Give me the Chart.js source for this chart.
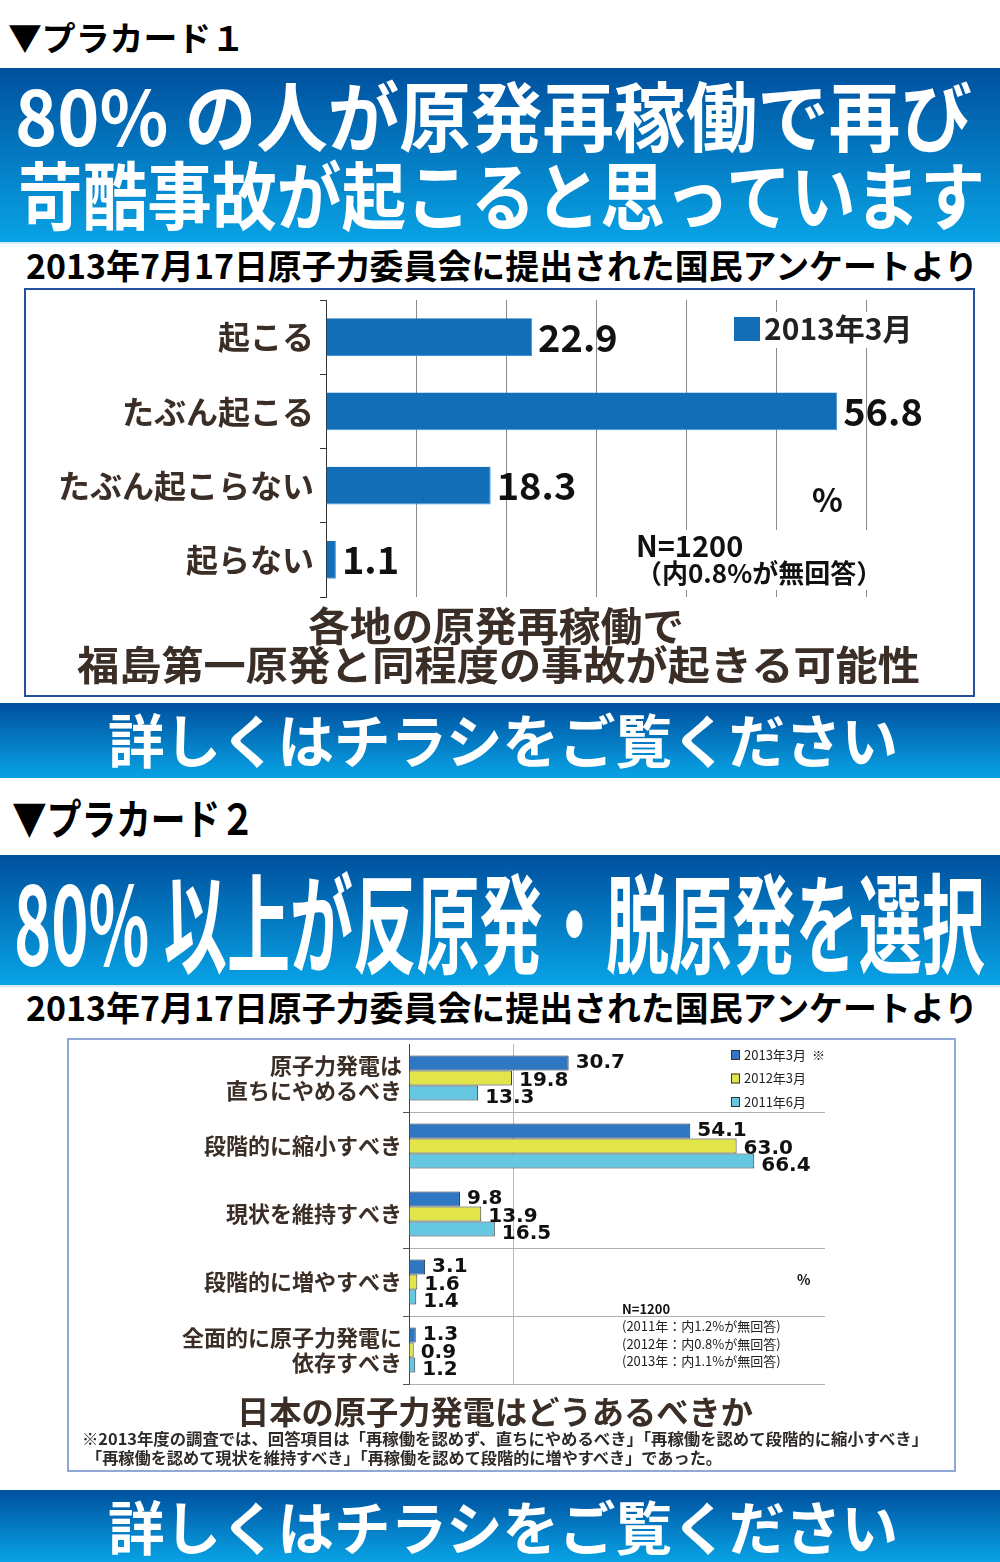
<!DOCTYPE html>
<html>
<head>
<meta charset="utf-8">
<script src="https://cdn.jsdelivr.net/npm/chart.js@4.4.0/dist/chart.umd.min.js"></script>
<style>
body { margin:0; width:1000px; height:1562px; position:relative; overflow:hidden; background:#fff; font-family:"Noto Sans CJK JP", sans-serif; }
.band { position:absolute; left:0; width:1000px; background:linear-gradient(#00509e, #08a3e5); }
.fit { position:absolute; white-space:nowrap; transform-origin:0 0; font-weight:700; line-height:1; }
.box { position:absolute; box-sizing:border-box; background:#fff; }
canvas { position:absolute; }
</style>
</head>
<body>

<div class="fit" data-w="237" style="left:8px;top:20px;font-size:34px;color:#000">▼プラカード１</div>

<div class="band" style="top:68px;height:174px;border-bottom:2px solid #d4ecf9"></div>
<div class="fit" data-w="957" style="left:15px;top:75px;font-size:76px;color:#fff">80% の人が原発再稼働で再び</div>
<div class="fit" data-w="967" style="left:18px;top:155px;font-size:74px;color:#fff">苛酷事故が起こると思っています</div>

<div class="fit" data-w="952" style="left:26px;top:248px;font-size:34px;color:#000">2013年7月17日原子力委員会に提出された国民アンケートより</div>

<div class="box" style="left:24px;top:288px;width:951px;height:409px;border:2px solid #24509c"></div>
<canvas id="chart1" width="946" height="320" style="left:26px;top:290px"></canvas>
<div class="fit" data-w="376" style="left:308px;top:604px;font-size:40px;color:#3a2e26">各地の原発再稼働で</div>
<div class="fit" data-w="843" style="left:77px;top:643px;font-size:40px;color:#3a2e26">福島第一原発と同程度の事故が起きる可能性</div>

<div class="band" style="top:703px;height:75px"></div>
<div class="fit" data-w="790" style="left:108px;top:709px;font-size:58px;color:#fff">詳しくはチラシをご覧ください</div>

<div class="fit" data-w="243" style="left:12px;top:796px;font-size:42px;color:#000">▼プラカード２</div>

<div class="band" style="top:855px;height:130px;border-bottom:2px solid #d4ecf9"></div>
<div class="fit" data-w="971" style="left:14px;top:864px;font-size:108px;color:#fff">80% 以上が反原発・脱原発を選択</div>

<div class="fit" data-w="952" style="left:26px;top:990px;font-size:34px;color:#000">2013年7月17日原子力委員会に提出された国民アンケートより</div>

<div class="box" style="left:67px;top:1038px;width:889px;height:434px;border:2px solid #8fa8d8"></div>
<canvas id="chart2" width="885" height="350" style="left:69px;top:1040px"></canvas>
<div class="fit" data-w="516" style="left:237px;top:1394px;font-size:32px;color:#3a2e26">日本の原子力発電はどうあるべきか</div>
<div class="fit" data-w="846" style="left:82px;top:1430px;font-size:16px;color:#2e2a28">※2013年度の調査では、回答項目は「再稼働を認めず、直ちにやめるべき」「再稼働を認めて段階的に縮小すべき」</div>
<div class="fit" data-w="636" style="left:86px;top:1449px;font-size:16px;color:#2e2a28">「再稼働を認めて現状を維持すべき」「再稼働を認めて段階的に増やすべき」であった。</div>

<div class="band" style="top:1490px;height:72px"></div>
<div class="fit" data-w="790" style="left:108px;top:1496px;font-size:58px;color:#fff">詳しくはチラシをご覧ください</div>

<script>
// placard 1
const p1Categories = ['起こる', 'たぶん起こる', 'たぶん起こらない', '起らない'];
const p1Values = [22.9, 56.8, 18.3, 1.1];
const p1Series = '2013年3月';
const p1Ticks = [0, 10, 20, 30, 40, 50, 60];

// placard 2
const p2Categories = [['原子力発電は', '直ちにやめるべき'], '段階的に縮小すべき', '現状を維持すべき', '段階的に増やすべき', ['全面的に原子力発電に', '依存すべき']];
const p2Series = ['2013年3月', '2012年3月', '2011年6月'];
const p2Values2013 = [30.7, 54.1, 9.8, 3.1, 1.3];
const p2Values2012 = [19.8, 63.0, 13.9, 1.6, 0.9];
const p2Values2011 = [13.3, 66.4, 16.5, 1.4, 1.2];
const p2Ticks = [0, 20, 40, 60, 80];

const JP = '"Noto Sans CJK JP", sans-serif';

// squeeze/stretch the poster texts to their width
function fitTexts() {
  document.querySelectorAll('.fit').forEach(el => {
    el.style.transform = '';
    const w = el.getBoundingClientRect().width;
    el.style.transform = 'scaleX(' + (el.dataset.w / w) + ')';
  });
}
fitTexts();
if (document.fonts) document.fonts.ready.then(fitTexts);

// numbers at the end of each bar
const valueLabels = {
  id: 'valueLabels',
  afterDatasetsDraw(chart, args, opts) {
    const ctx = chart.ctx;
    ctx.save();
    ctx.font = opts.font;
    ctx.fillStyle = '#111';
    ctx.textBaseline = 'middle';
    ctx.textAlign = 'left';
    chart.data.datasets.forEach((ds, i) => {
      chart.getDatasetMeta(i).data.forEach((bar, j) => {
        ctx.fillText(ds.data[j].toFixed(1), bar.x + opts.gap, bar.y + (opts.dy ? opts.dy[i] : 0));
      });
    });
    ctx.restore();
  }
};

// legend + notes drawn into the plot
const notes = {
  id: 'notes',
  afterDatasetsDraw(chart, args, opts) {
    const ctx = chart.ctx;
    ctx.save();
    ctx.textBaseline = 'middle';
    (opts.blank || []).forEach(r => {
      ctx.fillStyle = '#fff';
      ctx.fillRect(r[0], r[1], r[2], r[3]);
    });
    const lg = opts.legend;
    chart.data.datasets.forEach((ds, i) => {
      const y = lg.y + i * lg.step;
      ctx.fillStyle = ds.backgroundColor;
      ctx.fillRect(lg.x, y - lg.h / 2, lg.w, lg.h);
      if (lg.stroke) {
        ctx.strokeStyle = lg.stroke;
        ctx.lineWidth = 1;
        ctx.strokeRect(lg.x + 0.5, y - lg.h / 2 + 0.5, lg.w - 1, lg.h - 1);
      }
      ctx.fillStyle = '#222';
      ctx.font = lg.font;
      ctx.fillText(ds.label + (i === 0 && lg.mark ? lg.mark : ''), lg.x + lg.w + lg.gap, y);
    });
    (opts.texts || []).forEach(t => {
      ctx.fillStyle = t.color || '#111';
      ctx.font = t.font;
      if (t.maxW) ctx.fillText(t.text, t.x, t.y, t.maxW);
      else ctx.fillText(t.text, t.x, t.y);
    });
    ctx.restore();
  }
};

// y axis: fixed width, no extra label padding above/below
function fixY(width) {
  return s => { s.width = width; s.paddingTop = 0; s.paddingBottom = 0; };
}

new Chart(document.getElementById('chart1'), {
  type: 'bar',
  data: {
    labels: p1Categories,
    datasets: [{
      label: p1Series,
      data: p1Values,
      backgroundColor: '#116eb7',
      borderColor: '#3f95dc',
      borderWidth: { bottom: 1, right: 1 },
      categoryPercentage: 1,
      barPercentage: 0.51
    }]
  },
  options: {
    indexAxis: 'y',
    responsive: false,
    animation: false,
    layout: { padding: { left: 0, right: 106, top: 10, bottom: 13 } },
    scales: {
      x: {
        min: p1Ticks[0],
        max: p1Ticks[p1Ticks.length - 1],
        ticks: { display: false, stepSize: p1Ticks[1] - p1Ticks[0] },
        grid: { color: '#8a8a8a', lineWidth: 1, drawTicks: false },
        border: { display: false },
        afterFit: s => { s.height = 0; s.paddingLeft = 0; s.paddingRight = 0; }
      },
      y: {
        ticks: { color: '#3b2e26', font: { family: JP, size: 32, weight: 'bold' }, padding: 6 },
        grid: { drawOnChartArea: false, color: '#333', tickLength: 6 },
        border: { color: '#333', width: 1 },
        afterFit: fixY(300)
      }
    },
    plugins: {
      legend: { display: false },
      tooltip: { enabled: false },
      valueLabels: { font: 'bold 38px ' + JP, gap: 6 },
      notes: {
        blank: [[700, 22, 204, 36], [604, 240, 266, 60]],
        legend: { x: 708, y: 39, step: 0, w: 26, h: 24, gap: 4, font: 'bold 30px ' + JP },
        texts: [
          { text: '%', x: 786, y: 210, font: 'bold 32px ' + JP },
          { text: 'N=1200', x: 610, y: 256, font: 'bold 29px ' + JP, maxW: 118 },
          { text: '（内0.8%が無回答）', x: 610, y: 283, font: 'bold 26px ' + JP, maxW: 256 }
        ]
      }
    }
  },
  plugins: [valueLabels, notes]
});

const p2Colors = ['#2f77c2', '#e2e54a', '#66c7e1'];
const p2Data = [p2Values2013, p2Values2012, p2Values2011];

new Chart(document.getElementById('chart2'), {
  type: 'bar',
  data: {
    labels: p2Categories,
    datasets: p2Series.map((name, i) => ({
      label: name,
      data: p2Data[i],
      backgroundColor: p2Colors[i],
      borderColor: '#2b3440',
      borderWidth: 1,
      categoryPercentage: 0.66,
      barPercentage: 1
    }))
  },
  options: {
    indexAxis: 'y',
    responsive: false,
    animation: false,
    layout: { padding: { left: 0, right: 129, top: 4, bottom: 6 } },
    scales: {
      x: {
        min: p2Ticks[0],
        max: p2Ticks[p2Ticks.length - 1],
        ticks: { display: false, stepSize: p2Ticks[1] - p2Ticks[0] },
        grid: { color: c => c.tick && c.tick.value === p2Ticks[1] ? '#b8b8b8' : 'rgba(0,0,0,0)', drawTicks: false },
        border: { display: false },
        afterFit: s => { s.height = 0; s.paddingLeft = 0; s.paddingRight = 0; }
      },
      y: {
        ticks: { color: '#3b2e26', font: { family: JP, size: 22, weight: 'bold', lineHeight: 1.14 }, padding: 1 },
        grid: {
          color: c => (c.index === 0 || c.index === 2) ? 'rgba(0,0,0,0)' : '#b0b0b0',
          tickColor: c => (c.index === 0 || c.index === 2) ? 'rgba(0,0,0,0)' : '#555',
          tickLength: 6
        },
        border: { color: '#444', width: 1 },
        afterFit: fixY(340)
      }
    },
    plugins: {
      legend: { display: false },
      tooltip: { enabled: false },
      valueLabels: { font: 'bold 20px "DejaVu Sans", sans-serif', gap: 7, dy: [0, 3, 5] },
      notes: {
        legend: { x: 662, y: 15, step: 23.5, w: 9, h: 10, gap: 4, stroke: '#333', mark: '  ※', font: '13px ' + JP },
        texts: [
          { text: '%', x: 728, y: 240, font: 'bold 14px ' + JP },
          { text: 'N=1200', x: 553, y: 269, font: 'bold 13px ' + JP },
          { text: '(2011年：内1.2%が無回答)', x: 553, y: 286, font: '13px ' + JP, color: '#222', maxW: 164 },
          { text: '(2012年：内0.8%が無回答)', x: 553, y: 304, font: '13px ' + JP, color: '#222', maxW: 164 },
          { text: '(2013年：内1.1%が無回答)', x: 553, y: 321, font: '13px ' + JP, color: '#222', maxW: 164 }
        ]
      }
    }
  },
  plugins: [valueLabels, notes]
});
</script>
</body>
</html>
